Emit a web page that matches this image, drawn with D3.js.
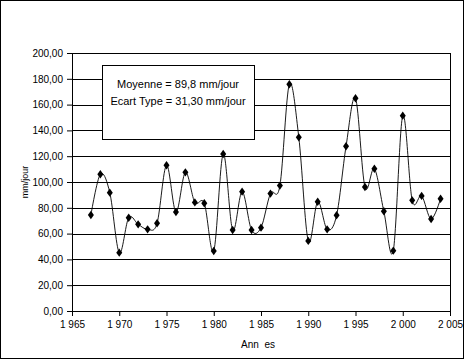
<!DOCTYPE html>
<html>
<head>
<meta charset="utf-8">
<script src="https://cdn.jsdelivr.net/npm/d3@7"></script>
<style>
  body { margin: 0; background: #fff; }
  svg { font-family: "Liberation Sans", Arial, sans-serif; }
</style>
</head>
<body>
<div id="chart"></div>
<script>
// annual values, mm/jour
var years = [1967, 1968, 1969, 1970, 1971, 1972, 1973, 1974, 1975, 1976,
  1977, 1978, 1979, 1980, 1981, 1982, 1983, 1984, 1985, 1986,
  1987, 1988, 1989, 1990, 1991, 1992, 1993, 1994, 1995, 1996,
  1997, 1998, 1999, 2000, 2001, 2002, 2003, 2004];
var values = [74.4, 106, 91.7, 45.2, 72.3, 67.2, 63.3, 68, 113, 76.7,
  107.5, 84.2, 83.5, 46.5, 121.7, 62.8, 92.5, 62.8, 64.6, 91,
  97.2, 175.8, 134.6, 54.3, 84.7, 63.3, 74.2, 127.7, 164.9, 96.1,
  110.3, 77.3, 46.8, 151.4, 85.8, 89.2, 71.3, 87];

var xTicks = [1965, 1970, 1975, 1980, 1985, 1990, 1995, 2000, 2005];
var yTicks = [0, 20, 40, 60, 80, 100, 120, 140, 160, 180, 200];
var boxLines = ["Moyenne = 89,8 mm/jour", "Ecart Type = 31,30 mm/jour"];

var W = 465, H = 360;
var margin = {top: 53, right: 15, bottom: 49, left: 72};
var width = W - margin.left - margin.right,
    height = H - margin.top - margin.bottom;

var fr = d3.formatLocale({decimal: ",", thousands: " ", grouping: [3], currency: ["", ""]});
var fmtY = fr.format(".2f");
var fmtX = fr.format(",");

var svg = d3.select("#chart").append("svg")
  .attr("width", W)
  .attr("height", H);

// outer frame
svg.append("rect")
  .attr("x", 0.5).attr("y", 0.5)
  .attr("width", 463).attr("height", 358)
  .attr("fill", "#fff").attr("stroke", "#000");

var plot = svg.append("g")
  .attr("transform", "translate(" + margin.left + "," + margin.top + ")");

var x = d3.scaleLinear().domain([1965, 2005]).range([0, width]);
var y = d3.scaleLinear().domain([0, 200]).range([height, 0]);

// gridlines
plot.selectAll(".grid")
  .data(yTicks)
  .enter().append("line")
  .attr("x1", 0).attr("x2", width)
  .attr("y1", function(d){ return Math.round(y(d)) + 0.5; })
  .attr("y2", function(d){ return Math.round(y(d)) + 0.5; })
  .attr("stroke", "#000");

// plot area border (right side)
plot.append("line")
  .attr("x1", width + 0.5).attr("x2", width + 0.5)
  .attr("y1", 0).attr("y2", height)
  .attr("stroke", "#000");

// axes
var yAxis = d3.axisLeft(y).tickValues(yTicks).tickFormat(fmtY).tickSize(5).tickSizeOuter(0);
var xAxis = d3.axisBottom(x).tickValues(xTicks).tickFormat(fmtX).tickSize(5).tickSizeOuter(0);

plot.append("g")
  .call(yAxis)
  .call(function(g){
    g.selectAll("text").attr("font-size", 10).attr("fill", "#000").attr("x", -9);
    g.selectAll("line, path").attr("stroke", "#000");
    g.attr("font-family", null);
  });

plot.append("g")
  .attr("transform", "translate(0," + height + ")")
  .call(xAxis)
  .call(function(g){
    g.selectAll("text").attr("font-size", 10).attr("fill", "#000").attr("y", 10);
    g.selectAll("line, path").attr("stroke", "#000");
    g.attr("font-family", null);
  });

// series line, smoothed like the original
var line = d3.line()
  .x(function(d, i){ return x(years[i]); })
  .y(function(d){ return y(d); })
  .curve(d3.curveCatmullRom.alpha(0));

plot.append("path")
  .datum(values)
  .attr("d", line)
  .attr("fill", "none")
  .attr("stroke", "#000")
  .attr("stroke-width", 0.9);

// markers
plot.selectAll(".pt")
  .data(values)
  .enter().append("path")
  .attr("d", d3.symbol().type(d3.symbolDiamond).size(20))
  .attr("transform", function(d, i){ return "translate(" + x(years[i]) + "," + y(d) + ") scale(1.25,1)"; })
  .attr("fill", "#000");

// stats box
svg.append("rect")
  .attr("x", 102.5).attr("y", 65.5)
  .attr("width", 152).attr("height", 74)
  .attr("fill", "#fff").attr("stroke", "#000");

svg.selectAll(".box-text")
  .data(boxLines)
  .enter().append("text")
  .attr("x", 178)
  .attr("y", function(d, i){ return 88 + i * 17; })
  .attr("text-anchor", "middle")
  .attr("font-size", 11)
  .text(function(d){ return d; });

// axis titles
svg.append("text")
  .attr("x", 258).attr("y", 348)
  .attr("text-anchor", "middle")
  .attr("font-size", 10)
  .style("white-space", "pre")
  .text("Ann  es");

svg.append("text")
  .attr("transform", "translate(28,182) rotate(-90)")
  .attr("text-anchor", "middle")
  .attr("font-size", 9)
  .text("mm/jour");
</script>
</body>
</html>
